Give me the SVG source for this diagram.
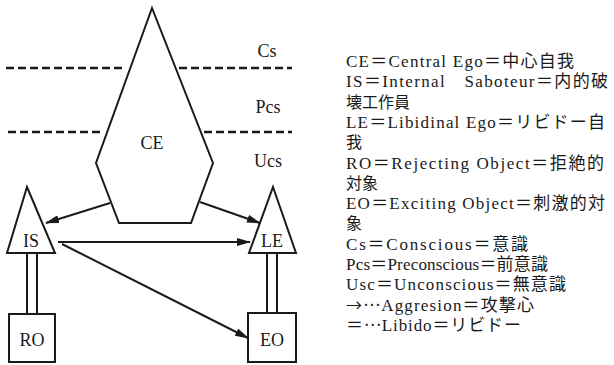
<svg xmlns="http://www.w3.org/2000/svg" width="614" height="365" viewBox="0 0 614 365">
<style>
text{font-family:"Liberation Serif","DejaVu Serif","Noto Sans CJK JP",serif;font-size:18px;fill:#1a1a1a}
.lbl{text-anchor:middle;dominant-baseline:central}
.leg{font-size:17px}
.cj{font-family:"Noto Sans CJK JP",sans-serif;font-size:16px}
.shape{fill:#fff;stroke:#1a1a1a;stroke-width:2}
.dash{stroke:#1a1a1a;stroke-width:2.5;stroke-dasharray:8 4;fill:none}
.con{stroke:#1a1a1a;stroke-width:2;fill:none}
.arr{marker-end:url(#ah)}
</style>
<defs>
<marker id="ah" viewBox="0 0 14 8" refX="13" refY="4" markerWidth="14" markerHeight="8" markerUnits="userSpaceOnUse" orient="auto">
<path d="M0,0 L14,4 L0,8 z" fill="#1a1a1a"/>
</marker>
</defs>
<g id="levels">
<line class="dash" x1="6" y1="68" x2="124" y2="68"/>
<line class="dash" x1="179" y1="68" x2="292" y2="68"/>
<line class="dash" x1="8" y1="132" x2="104" y2="132"/>
<line class="dash" x1="204" y1="132" x2="292" y2="132"/>
<text class="lbl" x="267" y="51">Cs</text>
<text class="lbl" x="268" y="107">Pcs</text>
<text class="lbl" x="268" y="161">Ucs</text>
</g>
<g id="CE">
<polygon class="shape" points="152,8 213,163 191,223 119,223 96,163"/>
<text class="lbl" x="152" y="143">CE</text>
</g>
<g id="IS">
<polygon class="shape" points="27,187 55,253 7,253"/>
<text class="lbl" x="31" y="241">IS</text>
</g>
<g id="LE">
<polygon class="shape" points="273,187 296,253 249,253"/>
<text class="lbl" x="272" y="241">LE</text>
</g>
<g id="RO">
<rect class="shape" x="9" y="314" width="46" height="48"/>
<text class="lbl" x="32" y="340">RO</text>
</g>
<g id="EO">
<rect class="shape" x="248" y="313" width="48" height="49"/>
<text class="lbl" x="272" y="340">EO</text>
</g>
<g id="connectors">
<line class="con arr" x1="110" y1="203" x2="46" y2="223"/>
<line class="con arr" x1="200" y1="202" x2="260" y2="223"/>
<line class="con arr" x1="58" y1="242" x2="250" y2="242"/>
<line class="con arr" x1="62" y1="244" x2="248" y2="338"/>
<line class="con" x1="27" y1="253" x2="27" y2="314"/>
<line class="con" x1="37" y1="253" x2="37" y2="314"/>
<line class="con" x1="267" y1="253" x2="267" y2="313"/>
<line class="con" x1="277" y1="253" x2="277" y2="313"/>
</g>
<g id="legend">
<text class="leg" x="346" y="67" textLength="228" lengthAdjust="spacing">CE＝Central Ego＝中心自我</text>
<text class="leg" x="346" y="87.3" textLength="262" lengthAdjust="spacing">IS＝Internal　Saboteur＝内的破</text>
<text class="cj" x="346" y="107.6">壊工作員</text>
<text class="leg" x="346" y="127.9" textLength="259" lengthAdjust="spacing">LE＝Libidinal Ego＝リビドー自</text>
<text class="cj" x="346" y="148.2">我</text>
<text class="leg" x="346" y="168.5" textLength="258" lengthAdjust="spacing">RO＝Rejecting Object＝拒絶的</text>
<text class="cj" x="346" y="188.8">対象</text>
<text class="leg" x="346" y="209.1" textLength="259" lengthAdjust="spacing">EO＝Exciting Object＝刺激的対</text>
<text class="cj" x="346" y="229.4">象</text>
<text class="leg" x="346" y="249.7" textLength="182" lengthAdjust="spacing">Cs＝Conscious＝意識</text>
<text class="leg" x="346" y="270" textLength="202" lengthAdjust="spacing">Pcs＝Preconscious＝前意識</text>
<text class="leg" x="346" y="290.3" textLength="220" lengthAdjust="spacing">Usc＝Unconscious＝無意識</text>
<text class="leg" x="346" y="310.6" textLength="188" lengthAdjust="spacing"><tspan class="cj">→</tspan><tspan class="cj" dy="-5">…</tspan><tspan dy="5">Aggresion＝攻撃心</tspan></text>
<text class="leg" x="346" y="330.9" textLength="175" lengthAdjust="spacing">＝<tspan class="cj" dy="-5">…</tspan><tspan dy="5">Libido＝リビドー</tspan></text>
</g>
</svg>
